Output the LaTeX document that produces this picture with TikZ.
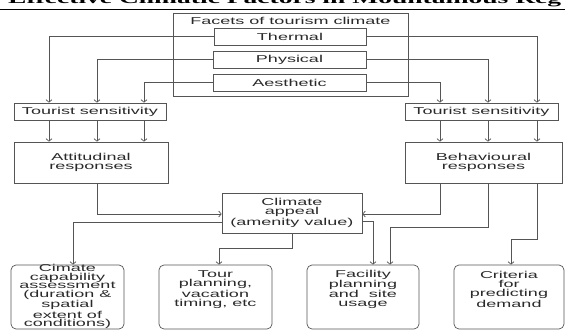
\documentclass[tikz,border=0pt]{standalone}
\usepackage{fontspec}
\newfontfamily\dfont{Liberation Sans}[FakeStretch=1.8]
\newfontfamily\tfont{Liberation Serif}[FakeStretch=1.8]
\usetikzlibrary{arrows.meta}
\definecolor{ln}{HTML}{555555}
\definecolor{tx}{HTML}{2A2A2A}
\begin{document}
\begin{tikzpicture}[x=1pt,y=-1pt,
  dtext/.style={font={\dfont\fontsize{10pt}{9pt}\selectfont}, text=tx, align=center},
  box/.style={draw=ln, line width=0.7pt, rectangle, inner sep=0pt, dtext},
  rbox/.style={box, rounded corners=5pt},
  txt/.style={inner sep=0pt, dtext},
  arr/.style={draw=ln, line width=0.7pt, -{Straight Barb[length=2.5pt,width=6pt]}},
  con/.style={draw=ln, line width=0.7pt}]
\useasboundingbox (0,0) rectangle (565,330);
\clip (0,0) rectangle (565,330);
% title (cut off at the top)
\node[anchor=base west, inner sep=0pt, text=black,
  font={\tfont\bfseries\fontsize{15.3pt}{16pt}\selectfont}] (title) at (8,3.5) {Effective Climatic Factors in Mountainous Reg};
\draw[black, line width=1pt] (0,9.3) -- (565,9.3);
% facets
\node[box, minimum width=235pt, minimum height=83pt] (facets) at (290.5,54.5) {};
\node[txt] (facetst) at (290.5,21) {Facets of tourism climate};
\node[box, minimum width=152pt, minimum height=17pt] (thermal) at (290,36.5) {Thermal};
\node[box, minimum width=153pt, minimum height=17pt] (physical) at (289.5,59.5) {Physical};
\node[box, minimum width=153pt, minimum height=17pt] (aesthetic) at (289.5,82.5) {Aesthetic};
% sensitivity
\node[box, minimum width=152pt, minimum height=17pt] (sensL) at (90,111.5) {Tourist sensitivity};
\node[box, minimum width=153pt, minimum height=17pt] (sensR) at (481.5,111.5) {Tourist sensitivity};
% responses
\node[box, minimum width=154pt, minimum height=41pt] (attL) at (91,162.5) {Attitudinal\\responses};
\node[box, minimum width=157pt, minimum height=41pt] (behR) at (483.5,162.5) {Behavioural\\responses};
% climate appeal
\node[box, minimum width=140pt, minimum height=40pt] (climate) at (292,213) {Climate\\appeal\\(amenity value)};
% bottom boxes
\node[rbox, minimum width=113pt, minimum height=64pt] (cap) at (67.5,297) {};
\node[txt, font={\dfont\fontsize{10pt}{8.7pt}\selectfont}] (capt) at (67.5,296.5) {Cimate\\capability\\assessment\\(duration \&\\spatial\\extent of\\conditions)};
\node[rbox, minimum width=113pt, minimum height=64pt] (tour) at (215.5,297) {};
\node[txt] (tourt) at (215.5,289.5) {Tour\\planning,\\vacation\\timing, etc};
\node[rbox, minimum width=112pt, minimum height=64pt] (fac) at (363,297) {};
\node[txt] (fact) at (363,289.5) {Facility\\planning\\and~~site\\usage};
\node[rbox, minimum width=110pt, minimum height=64pt] (crit) at (509,297) {};
\node[txt] (critt) at (509,289.5) {Criteria\\for\\predicting\\demand};
% facets -> sensitivity
\draw[arr] (thermal.west) -| ([xshift=-41pt]sensL.north);
\draw[arr] (physical.west) -| ([xshift=7pt]sensL.north);
\draw[arr] (aesthetic.west) -| ([xshift=54pt]sensL.north);
\draw[arr] (thermal.east) -| ([xshift=55.5pt]sensR.north);
\draw[arr] (physical.east) -| ([xshift=6.5pt]sensR.north);
\draw[arr] (aesthetic.east) -| ([xshift=-41.5pt]sensR.north);
% sensitivity -> responses
\draw[arr] ([xshift=-41pt]sensL.south) -- ([xshift=-42pt]attL.north);
\draw[arr] ([xshift=7pt]sensL.south) -- ([xshift=6pt]attL.north);
\draw[arr] ([xshift=54pt]sensL.south) -- ([xshift=53pt]attL.north);
\draw[arr] ([xshift=-41.5pt]sensR.south) -- ([xshift=-43.5pt]behR.north);
\draw[arr] ([xshift=6.5pt]sensR.south) -- ([xshift=4.5pt]behR.north);
\draw[arr] ([xshift=55.5pt]sensR.south) -- ([xshift=53.5pt]behR.north);
% responses -> climate
\draw[arr] ([xshift=6pt]attL.south) |- ([yshift=-1pt]climate.west);
\draw[arr] ([xshift=-43.5pt]behR.south) |- ([yshift=-1pt]climate.east);
% climate -> outcomes
\draw[arr] ([yshift=-9pt]climate.west) -| ([xshift=5.5pt]cap.north);
\draw[arr] (climate.south) -- ++(0,15) -| ([xshift=3.5pt]tour.north);
\draw[arr] ([yshift=-8pt]climate.east) -| ([xshift=10pt]fac.north);
\draw[arr] ([xshift=4.5pt]behR.south) -- ++(0,44) -| ([xshift=27pt]fac.north);
\draw[arr] ([xshift=53.5pt]behR.south) -- ++(0,56) -| ([xshift=2pt]crit.north);
\end{tikzpicture}
\end{document}
